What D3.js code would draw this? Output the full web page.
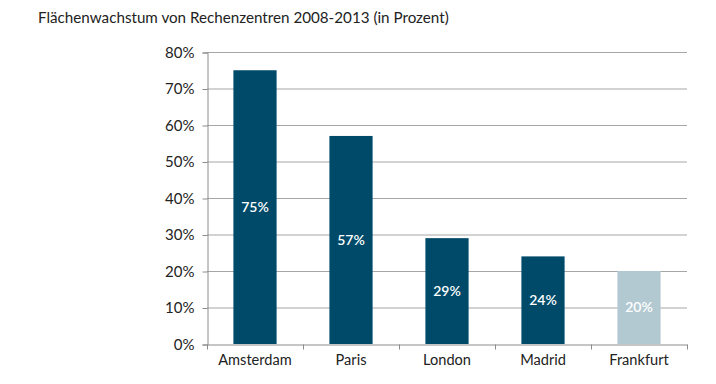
<!DOCTYPE html>
<html>
<head>
<meta charset="utf-8">
<script src="https://cdn.jsdelivr.net/npm/d3@7"></script>
<style>
  body { margin: 0; background: #fff; }
  text { font-family: Lato, "Open Sans", sans-serif; }
</style>
</head>
<body>
<div id="chart"></div>
<script>
(function() {
    var width = 716,
        height = 384;

    var cities = ["Amsterdam", "Paris", "London", "Madrid", "Frankfurt"];
    var growth = [75, 57, 29, 24, 20];
    var yTicks = [0, 10, 20, 30, 40, 50, 60, 70, 80];
    var title = "Flächenwachstum von Rechenzentren 2008-2013 (in Prozent)";

    var margin = { top: 52, left: 207, right: 29, bottom: 40 };

    var svg = d3.select("#chart")
        .append("svg")
        .attr("width", width)
        .attr("height", height);

    svg.append("text")
        .attr("x", 38)
        .attr("y", 23)
        .attr("font-size", 15.2)
        .attr("fill", "#222")
        .text(title);

    var x = d3.scaleBand()
        .domain(cities)
        .range([margin.left, width - margin.right])
        .paddingInner(0.55)
        .paddingOuter(0.275);

    var y = d3.scaleLinear()
        .domain([0, 80])
        .range([height - margin.bottom, margin.top]);

    // gridlines
    svg.selectAll(".grid")
        .data(yTicks.slice(1))
        .enter().append("line")
        .attr("class", "grid")
        .attr("x1", margin.left)
        .attr("x2", width - margin.right)
        .attr("y1", function(d) { return y(d) + 0.5; })
        .attr("y2", function(d) { return y(d) + 0.5; })
        .attr("stroke", "#a6a6a6")
        .attr("stroke-width", 1);

    // bars
    svg.selectAll(".bar")
        .data(cities)
        .enter().append("rect")
        .attr("class", "bar")
        .attr("x", function(d) { return x(d); })
        .attr("width", x.bandwidth())
        .attr("y", function(d, i) { return y(growth[i]); })
        .attr("height", function(d, i) { return y(0) - y(growth[i]); })
        .attr("fill", function(d) { return d === "Frankfurt" ? "#b3c9d2" : "#004a69"; });

    svg.selectAll(".val")
        .data(cities)
        .enter().append("text")
        .attr("class", "val")
        .attr("x", function(d) { return x(d) + x.bandwidth() / 2; })
        .attr("y", function(d, i) { return (y(growth[i]) + y(0)) / 2; })
        .attr("dy", "0.35em")
        .attr("text-anchor", "middle")
        .attr("font-size", 14)
        .attr("font-weight", 600)
        .attr("fill", "#fff")
        .text(function(d, i) { return growth[i] + "%"; });

    // y axis
    var yAxis = d3.axisLeft(y)
        .tickValues(yTicks)
        .tickSize(5)
        .tickPadding(8)
        .tickFormat(function(d) { return d + "%"; });

    var gy = svg.append("g")
        .attr("transform", "translate(" + (margin.left + 0.5) + ",0.5)")
        .call(yAxis);
    gy.select(".domain").attr("stroke", "#8c8c8c");
    gy.selectAll(".tick line").attr("stroke", "#8c8c8c");
    gy.selectAll(".tick text")
        .attr("font-size", 15)
        .attr("fill", "#222")
        .attr("font-family", "Lato, 'Open Sans', sans-serif");

    // x axis
    var xAxis = d3.axisBottom(x)
        .tickSize(0)
        .tickPadding(10);

    var gx = svg.append("g")
        .attr("transform", "translate(0," + (y(0) + 0.5) + ")")
        .call(xAxis);
    gx.select(".domain").attr("stroke", "#8c8c8c");
    gx.selectAll(".tick text")
        .attr("font-size", 14.6)
        .attr("fill", "#222")
        .attr("font-family", "Lato, 'Open Sans', sans-serif");

    // category separators
    var step = x.step();
    var bounds = d3.range(cities.length + 1).map(function(i) { return margin.left + i * step; });
    gx.selectAll(".sep")
        .data(bounds)
        .enter().append("line")
        .attr("class", "sep")
        .attr("x1", function(d) { return Math.round(d) + 0.5; })
        .attr("x2", function(d) { return Math.round(d) + 0.5; })
        .attr("y1", 0)
        .attr("y2", 5)
        .attr("stroke", "#8c8c8c");
})();
</script>
</body>
</html>
